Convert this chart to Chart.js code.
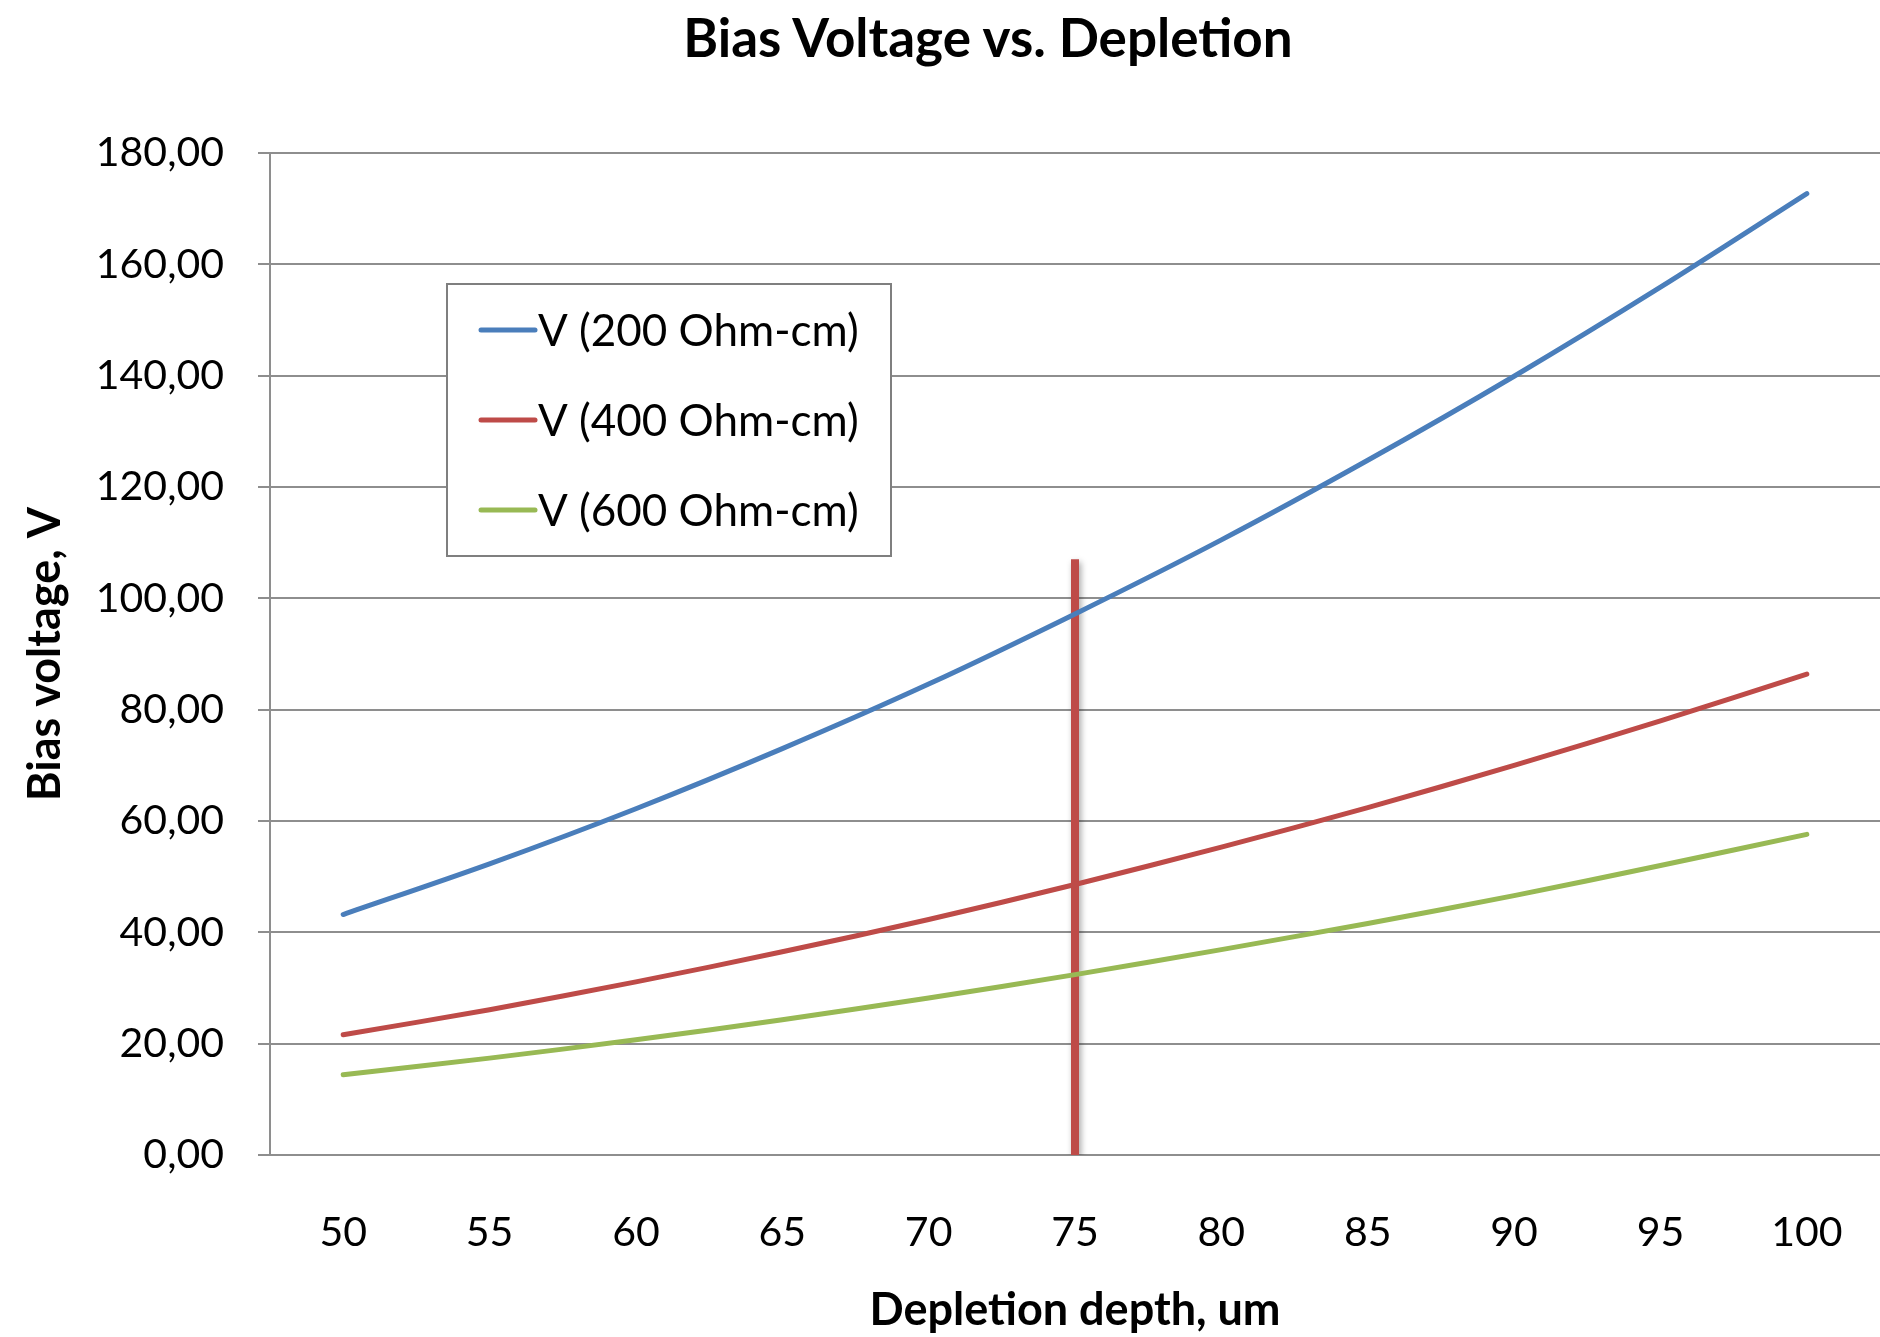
<!DOCTYPE html>
<html>
<head>
<meta charset="utf-8">
<title>Bias Voltage vs. Depletion</title>
<script src="https://cdn.jsdelivr.net/npm/chart.js@4.4.1/dist/chart.umd.min.js"></script>
<style>
  html, body { margin: 0; padding: 0; background: #fff; }
  #wrap { position: relative; width: 1880px; height: 1337px; }
  #chart-title {
    position: absolute; left: 988px; top: 36px;
    transform: translate(-50%, -50%);
    font: bold 53px Lato, sans-serif; color: #000; white-space: nowrap;
  }
</style>
</head>
<body>
<div id="wrap">
  <canvas id="biasChart" width="1880" height="1337"></canvas>
  <div id="chart-title">Bias Voltage vs. Depletion</div>
</div>
<script>
// Data
const depths = ['50', '55', '60', '65', '70', '75', '80', '85', '90', '95', '100'];
const v200 = [43.2, 52.3, 62.2, 73.0, 84.6, 97.2, 110.5, 124.8, 139.9, 155.9, 172.7];
const v400 = [21.6, 26.1, 31.1, 36.5, 42.3, 48.6, 55.3, 62.4, 70.0, 78.0, 86.4];
const v600 = [14.4, 17.4, 20.7, 24.3, 28.2, 32.4, 36.9, 41.6, 46.6, 52.0, 57.6];
const seriesNames = ['V (200 Ohm-cm)', 'V (400 Ohm-cm)', 'V (600 Ohm-cm)'];
const markerDepth = '75';
const markerRange = [0, 107];
const yMin = 0, yMax = 180, yStep = 20;

const blue = '#4a7ebb';
const red = '#be4b48';
const green = '#98b954';
const gridGray = '#8e8e8e';
const fontFamily = 'Lato, sans-serif';

// Legend box drawn inside the plot area
const boxLegend = {
    id: 'boxLegend',
    afterDraw(chart) {
        const ctx = chart.ctx;
        const items = chart.data.datasets.filter(ds => ds.label);
        ctx.save();
        ctx.fillStyle = '#fff';
        ctx.fillRect(447, 284, 444, 272);
        ctx.strokeStyle = '#7f7f7f';
        ctx.lineWidth = 2;
        ctx.strokeRect(447, 284, 444, 272);
        items.forEach((ds, i) => {
            const y = 330 + i * 90;
            ctx.strokeStyle = ds.borderColor;
            ctx.lineWidth = 5;
            ctx.lineCap = 'round';
            ctx.beginPath();
            ctx.moveTo(481, y);
            ctx.lineTo(535, y);
            ctx.stroke();
            ctx.fillStyle = '#000';
            ctx.font = '44px ' + fontFamily;
            ctx.textBaseline = 'middle';
            ctx.fillText(ds.label, 538, y + 2);
        });
        ctx.restore();
    }
};

// Soft shadow under the vertical marker
const markerShadow = {
    id: 'markerShadow',
    beforeDatasetDraw(chart, args) {
        if (args.index !== 3) return;
        const ctx = chart.ctx;
        ctx.save();
        ctx.shadowColor = 'rgba(0,0,0,0.35)';
        ctx.shadowBlur = 6;
        ctx.shadowOffsetX = 2;
        ctx.shadowOffsetY = 3;
    },
    afterDatasetDraw(chart, args) {
        if (args.index !== 3) return;
        chart.ctx.restore();
    }
};

const ctx = document.getElementById('biasChart').getContext('2d');
new Chart(ctx, {
    type: 'line',
    data: {
        labels: depths,
        datasets: [
            { label: seriesNames[0], data: v200, borderColor: blue, borderWidth: 5, tension: 0.3 },
            { label: seriesNames[1], data: v400, borderColor: red, borderWidth: 5, tension: 0.3 },
            { label: seriesNames[2], data: v600, borderColor: green, borderWidth: 5, tension: 0.3 },
            {
                data: [{ x: markerDepth, y: markerRange[0] }, { x: markerDepth, y: markerRange[1] }],
                borderColor: red, borderWidth: 8, borderCapStyle: 'butt', tension: 0
            }
        ]
    },
    options: {
        responsive: false,
        animation: false,
        layout: { padding: { top: 153, right: -9, bottom: 0, left: 0 } },
        elements: {
            point: { radius: 0, hoverRadius: 0 },
            line: { borderCapStyle: 'round', fill: false }
        },
        plugins: {
            legend: { display: false },
            title: { display: false },
            tooltip: { enabled: false }
        },
        scales: {
            x: {
                type: 'category',
                offset: true,
                grid: { display: false, drawTicks: false },
                border: { display: true, color: gridGray, width: 2 },
                ticks: { color: '#000', padding: 53, font: { family: fontFamily, size: 41 } },
                title: {
                    display: true, text: 'Depletion depth, um', color: '#000',
                    font: { family: fontFamily, size: 45, weight: 'bold' },
                    padding: { top: 0, bottom: 0 }
                },
                afterFit(scale) {
                    scale.height = 182;
                    scale.paddingLeft = 0;
                    scale.paddingRight = 0;
                }
            },
            y: {
                min: yMin, max: yMax,
                grid: { color: gridGray, lineWidth: 2, drawTicks: true, tickLength: 12 },
                border: { display: true, color: gridGray, width: 2 },
                ticks: {
                    stepSize: yStep, color: '#000', padding: 34,
                    font: { family: fontFamily, size: 41 },
                    callback: v => v.toFixed(2).replace('.', ',')
                },
                title: {
                    display: true, text: 'Bias voltage, V', color: '#000',
                    font: { family: fontFamily, size: 45, weight: 'bold' },
                    padding: { top: 18, bottom: 0 }
                },
                afterFit(scale) {
                    scale.width = 270;
                    scale.paddingTop = 0;
                    scale.paddingBottom = 0;
                }
            }
        }
    },
    plugins: [markerShadow, boxLegend]
});
</script>
</body>
</html>
